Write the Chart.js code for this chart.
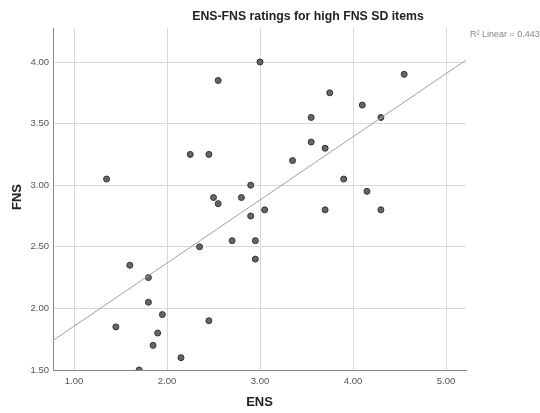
<!DOCTYPE html>
<html lang="en">
<head>
<meta charset="UTF-8">
<title>ENS-FNS ratings for high FNS SD items</title>
<script src="https://cdn.jsdelivr.net/npm/chart.js"></script>
<style>
body { margin: 0; background: #fff; }
#wrap { width: 540px; height: 413px; position: relative; }
</style>
</head>
<body>
<div id="wrap"><canvas id="chart" width="540" height="413"></canvas></div>
<script>
// data
var ensValues = [1.35, 1.45, 1.60, 1.70, 1.80, 1.80, 1.85, 1.90, 1.95, 2.15,
                 2.25, 2.35, 2.45, 2.45, 2.50, 2.55, 2.55, 2.70, 2.80, 2.90,
                 2.90, 2.95, 2.95, 3.00, 3.05, 3.35, 3.55, 3.55, 3.70, 3.70,
                 3.75, 3.90, 4.10, 4.15, 4.30, 4.30, 4.55];
var fnsValues = [3.05, 1.85, 2.35, 1.50, 2.25, 2.05, 1.70, 1.80, 1.95, 1.60,
                 3.25, 2.50, 3.25, 1.90, 2.90, 2.85, 3.85, 2.55, 2.90, 3.00,
                 2.75, 2.55, 2.40, 4.00, 2.80, 3.20, 3.55, 3.35, 3.30, 2.80,
                 3.75, 3.05, 3.65, 2.95, 3.55, 2.80, 3.90];
var xTicks = [1, 2, 3, 4, 5];
var yTicks = [1.5, 2.0, 2.5, 3.0, 3.5, 4.0];
var xRange = [0.774, 5.215];
var yRange = [1.5, 4.276];
var fitIntercept = 1.343;
var fitSlope = 0.5125;
var rSquared = 0.443;

var points = ensValues.map(function(x, i) { return { x: x, y: fnsValues[i] }; });
var fitLine = xRange.map(function(x) { return { x: x, y: fitIntercept + fitSlope * x }; });

// title, axis titles and R2 note
var textPlugin = {
    id: 'texts',
    afterDraw: function(chart) {
        var ctx = chart.ctx;
        var area = chart.chartArea;
        ctx.save();
        ctx.fillStyle = '#222';
        ctx.textAlign = 'center';
        ctx.textBaseline = 'middle';
        ctx.font = 'bold 12.3px "Liberation Sans", Arial, sans-serif';
        ctx.fillText('ENS-FNS ratings for high FNS SD items', 308, 17);
        ctx.font = 'bold 13px "Liberation Sans", Arial, sans-serif';
        ctx.fillText('ENS', (area.left + area.right) / 2, 402);
        ctx.translate(17, 197);
        ctx.rotate(-Math.PI / 2);
        ctx.fillText('FNS', 0, 0);
        ctx.restore();

        ctx.save();
        ctx.fillStyle = '#888';
        ctx.font = '9px "Liberation Sans", Arial, sans-serif';
        ctx.textAlign = 'left';
        ctx.textBaseline = 'middle';
        ctx.fillText('R\u00b2 Linear = ' + rSquared.toFixed(3), 470, 35);
        ctx.restore();
    }
};

new Chart(document.getElementById('chart'), {
    type: 'scatter',
    data: {
        datasets: [{
            label: 'Fit',
            type: 'line',
            data: fitLine,
            borderColor: '#a0a0a0',
            borderWidth: 1,
            pointRadius: 0,
            fill: false,
            clip: 0
        }, {
            label: 'Items',
            data: points,
            backgroundColor: '#666666',
            borderColor: '#333333',
            borderWidth: 1,
            pointRadius: 3,
            clip: 0
        }]
    },
    options: {
        responsive: false,
        animation: false,
        devicePixelRatio: 1,
        layout: { padding: { left: 0, top: 28, right: 74, bottom: 0 } },
        plugins: { legend: { display: false }, tooltip: { enabled: false }, title: { display: false } },
        scales: {
            x: {
                type: 'linear',
                min: xRange[0],
                max: xRange[1],
                afterBuildTicks: function(s) { s.ticks = xTicks.map(function(v) { return { value: v }; }); },
                afterFit: function(s) { s.height = 43; },
                grid: { color: '#d8d8d8', drawTicks: false },
                border: { color: '#888', width: 1 },
                ticks: {
                    padding: 6,
                    color: '#555',
                    font: { size: 9.5, family: '"Liberation Sans", Arial, sans-serif' },
                    callback: function(v) { return v.toFixed(2); }
                }
            },
            y: {
                type: 'linear',
                min: yRange[0],
                max: yRange[1],
                afterBuildTicks: function(s) { s.ticks = yTicks.map(function(v) { return { value: v }; }); },
                afterFit: function(s) { s.width = 53; },
                grid: { color: '#d8d8d8', drawTicks: false },
                border: { color: '#888', width: 1 },
                ticks: {
                    padding: 4,
                    color: '#555',
                    font: { size: 9.5, family: '"Liberation Sans", Arial, sans-serif' },
                    callback: function(v) { return v.toFixed(2); }
                }
            }
        }
    },
    plugins: [textPlugin]
});
</script>
</body>
</html>
